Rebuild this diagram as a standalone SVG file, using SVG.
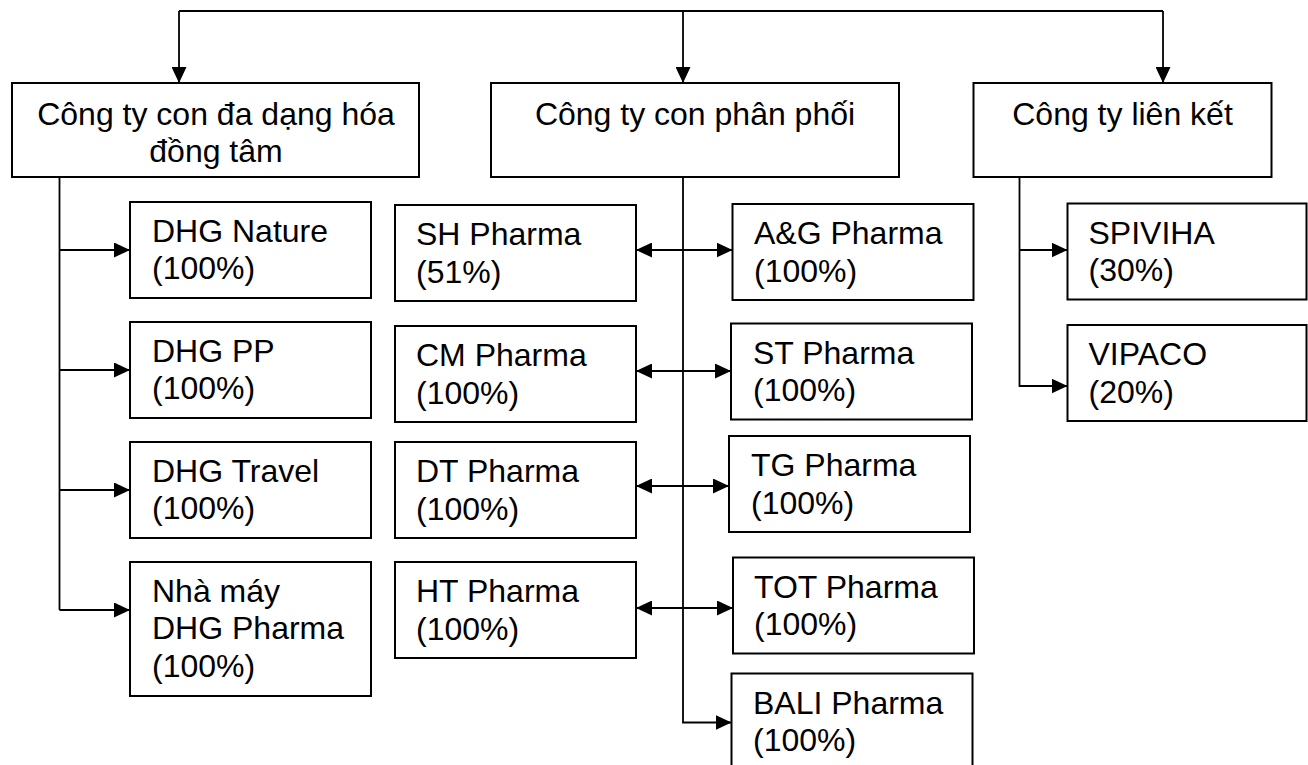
<svg xmlns="http://www.w3.org/2000/svg" width="1308" height="765" viewBox="0 0 1308 765">
<style>
.box{fill:#fff;stroke:#000;stroke-width:2}
.t{font-family:"Liberation Sans",Arial,sans-serif;font-size:32px;fill:#000}
.c{text-anchor:middle}
.ln{fill:none;stroke:#000;stroke-width:1.8}
</style>
<defs>
<marker id="ah" markerUnits="userSpaceOnUse" markerWidth="16" markerHeight="15" refX="16" refY="7.5" orient="auto-start-reverse" viewBox="0 0 16 15">
<path d="M0,0 L16,7.5 L0,15 z" fill="#000"/>
</marker>
</defs>
<rect width="1308" height="765" fill="#fff"/>
<g id="connectors">
<path class="ln" d="M179,11 H1163"/>
<path class="ln" d="M179,11 V83" marker-end="url(#ah)"/>
<path class="ln" d="M683,11 V83" marker-end="url(#ah)"/>
<path class="ln" d="M1163,11 V83" marker-end="url(#ah)"/>
<path class="ln" d="M59.5,177 V610"/>
<path class="ln" d="M59.5,250 H130" marker-end="url(#ah)"/>
<path class="ln" d="M59.5,370 H130" marker-end="url(#ah)"/>
<path class="ln" d="M59.5,490 H130" marker-end="url(#ah)"/>
<path class="ln" d="M59.5,610 H130" marker-end="url(#ah)"/>
<path class="ln" d="M683,177 V722.5 H731.5" marker-end="url(#ah)"/>
<path class="ln" d="M636,250 H732.5" marker-start="url(#ah)" marker-end="url(#ah)"/>
<path class="ln" d="M636,371 H731" marker-start="url(#ah)" marker-end="url(#ah)"/>
<path class="ln" d="M636,486 H729" marker-start="url(#ah)" marker-end="url(#ah)"/>
<path class="ln" d="M636,608 H733" marker-start="url(#ah)" marker-end="url(#ah)"/>
<path class="ln" d="M1019.5,177 V386 H1067.5" marker-end="url(#ah)"/>
<path class="ln" d="M1019.5,250 H1067.5" marker-end="url(#ah)"/>
</g>
<g id="n-dadang"><rect class="box" x="12" y="83" width="407" height="94"/>
<text class="t c" x="216" y="124.5">Công ty con đa dạng hóa</text><text class="t c" x="216" y="162">đồng tâm</text></g>
<g id="n-phanphoi"><rect class="box" x="491" y="83" width="408" height="94"/>
<text class="t c" x="695" y="124.5">Công ty con phân phối</text></g>
<g id="n-lienket"><rect class="box" x="973.5" y="83" width="298" height="94"/>
<text class="t c" x="1122.5" y="124.5">Công ty liên kết</text></g>

<g id="n-nature"><rect class="box" x="130" y="202" width="241" height="96"/>
<text class="t" x="152" y="241.5">DHG Nature</text><text class="t" x="152" y="279">(100%)</text></g>
<g id="n-pp"><rect class="box" x="130" y="322" width="241" height="96"/>
<text class="t" x="152" y="361.5">DHG PP</text><text class="t" x="152" y="399">(100%)</text></g>
<g id="n-travel"><rect class="box" x="130" y="442" width="241" height="96"/>
<text class="t" x="152" y="481.5">DHG Travel</text><text class="t" x="152" y="519">(100%)</text></g>
<g id="n-nhamay"><rect class="box" x="130" y="562" width="241" height="134"/>
<text class="t" x="152" y="601.5">Nhà máy</text><text class="t" x="152" y="639">DHG Pharma</text><text class="t" x="152" y="676.5">(100%)</text></g>

<g id="n-sh"><rect class="box" x="395" y="205" width="241" height="96"/>
<text class="t" x="416" y="245">SH Pharma</text><text class="t" x="416" y="282.5">(51%)</text></g>
<g id="n-cm"><rect class="box" x="395" y="326" width="241" height="96"/>
<text class="t" x="416" y="366">CM Pharma</text><text class="t" x="416" y="403.5">(100%)</text></g>
<g id="n-dt"><rect class="box" x="395" y="442" width="241" height="96"/>
<text class="t" x="416" y="482">DT Pharma</text><text class="t" x="416" y="519.5">(100%)</text></g>
<g id="n-ht"><rect class="box" x="395" y="562" width="241" height="96"/>
<text class="t" x="416" y="602">HT Pharma</text><text class="t" x="416" y="639.5">(100%)</text></g>

<g id="n-ag"><rect class="box" x="732.5" y="204" width="241" height="96"/>
<text class="t" x="754" y="244">A&amp;G Pharma</text><text class="t" x="754" y="281.5">(100%)</text></g>
<g id="n-st"><rect class="box" x="731" y="323.5" width="241" height="96"/>
<text class="t" x="753" y="363.5">ST Pharma</text><text class="t" x="753" y="401">(100%)</text></g>
<g id="n-tg"><rect class="box" x="729" y="436" width="241" height="96"/>
<text class="t" x="751" y="476">TG Pharma</text><text class="t" x="751" y="513.5">(100%)</text></g>
<g id="n-tot"><rect class="box" x="733" y="557.5" width="241" height="96"/>
<text class="t" x="754" y="597.5">TOT Pharma</text><text class="t" x="754" y="635">(100%)</text></g>
<g id="n-bali"><rect class="box" x="731.5" y="673.5" width="241" height="96"/>
<text class="t" x="753" y="713.5">BALI Pharma</text><text class="t" x="753" y="751">(100%)</text></g>

<g id="n-spiviha"><rect class="box" x="1067.5" y="203.5" width="239" height="96"/>
<text class="t" x="1088.5" y="243.5">SPIVIHA</text><text class="t" x="1088.5" y="281">(30%)</text></g>
<g id="n-vipaco"><rect class="box" x="1067.5" y="325" width="239" height="96"/>
<text class="t" x="1088.5" y="365">VIPACO</text><text class="t" x="1088.5" y="402.5">(20%)</text></g>
</svg>
